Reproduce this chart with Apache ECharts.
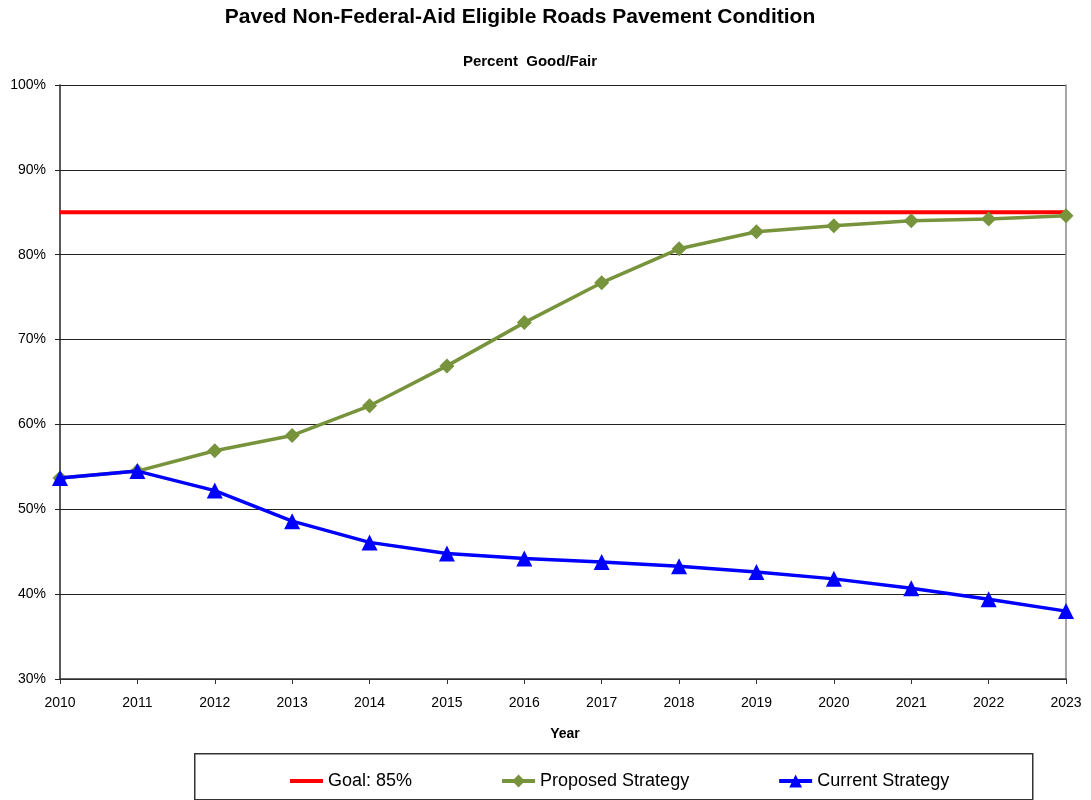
<!DOCTYPE html>
<html>
<head>
<meta charset="utf-8">
<script src="https://cdn.jsdelivr.net/npm/echarts@6/dist/echarts.min.js"></script>
<style>
	body { margin: 0; background: #fff; }
	#chart { width: 1091px; height: 800px; }
</style>
</head>
<body>
<div id="chart"></div>
<script>
// years on the x axis
let years = ['2010', '2011', '2012', '2013', '2014', '2015', '2016', '2017', '2018', '2019', '2020', '2021', '2022', '2023'];
// percent good/fair
let goal = [85, 85, 85, 85, 85, 85, 85, 85, 85, 85, 85, 85, 85, 85];
let proposed = [53.7, 54.5, 56.9, 58.7, 62.2, 66.9, 72.0, 76.7, 80.7, 82.7, 83.4, 84.0, 84.2, 84.6];
let current = [53.7, 54.5, 52.2, 48.6, 46.1, 44.8, 44.2, 43.8, 43.3, 42.6, 41.8, 40.7, 39.4, 38.0];

let font = 'Liberation Sans, Arial, sans-serif';
let myChart = echarts.init(document.getElementById('chart'));

let option = {
	backgroundColor: '#fff',
	animation: false,
	textStyle: { fontFamily: font },
	graphic: [
		{
			type: 'text', x: 520, y: 17,
			style: { text: 'Paved Non-Federal-Aid Eligible Roads Pavement Condition', font: 'bold 21px ' + font, fill: '#000', align: 'center', verticalAlign: 'middle' }
		},
		{
			type: 'text', x: 530, y: 62,
			style: { text: 'Percent  Good/Fair', font: 'bold 15px ' + font, fill: '#000', align: 'center', verticalAlign: 'middle' }
		},
		{
			type: 'text', x: 565, y: 734,
			style: { text: 'Year', font: 'bold 14px ' + font, fill: '#000', align: 'center', verticalAlign: 'middle' }
		},
		{
			type: 'rect', left: 194, top: 753,
			shape: { width: 838, height: 46 },
			style: { fill: '#fff', stroke: '#333', lineWidth: 1.5 }
		}
	],
	legend: {
		left: 285,
		top: 767,
		itemGap: 88,
		itemWidth: 33,
		itemHeight: 16,
		lineStyle: { width: 4 },
		textStyle: { fontSize: 18, color: '#000', fontFamily: font },
		data: [
			{ name: 'Goal: 85%', icon: 'path://M0,0L33,0L33,4L0,4Z' },
			'Proposed Strategy',
			'Current Strategy'
		]
	},
	grid: {
		left: 60,
		right: 25,
		top: 85,
		bottom: 121
	},
	xAxis: {
		type: 'category',
		boundaryGap: false,
		data: years,
		axisLine: { lineStyle: { color: '#333', width: 1.5 } },
		axisTick: { show: true, length: 5, lineStyle: { color: '#333' } },
		axisLabel: { color: '#000', fontSize: 14, margin: 17 }
	},
	yAxis: [
		{
			type: 'value',
			min: 30,
			max: 100,
			interval: 10,
			axisLine: { show: true, lineStyle: { color: '#222', width: 1.5 } },
			axisTick: { show: true, length: 5, lineStyle: { color: '#222' } },
			axisLabel: { color: '#000', fontSize: 14, formatter: '{value}%', margin: 14 },
			splitLine: { lineStyle: { color: '#222', width: 1 } }
		},
		{
			type: 'value',
			position: 'right',
			min: 30,
			max: 100,
			interval: 10,
			axisLine: { show: true, lineStyle: { color: '#888', width: 1.5 } },
			axisTick: { show: false },
			axisLabel: { show: false },
			splitLine: { show: false }
		}
	],
	series: [
		{
			name: 'Goal: 85%',
			type: 'line',
			data: goal,
			symbol: 'none',
			itemStyle: { color: '#ff0000' },
			lineStyle: { color: '#ff0000', width: 4 },
			z: 2
		},
		{
			name: 'Proposed Strategy',
			type: 'line',
			data: proposed,
			symbol: 'diamond',
			symbolSize: 15,
			itemStyle: { color: '#77933c' },
			lineStyle: { color: '#77933c', width: 3.5 },
			z: 3
		},
		{
			name: 'Current Strategy',
			type: 'line',
			data: current,
			symbol: 'triangle',
			symbolSize: 16,
			itemStyle: { color: '#0000ff' },
			lineStyle: { color: '#0000ff', width: 3.5 },
			z: 4
		}
	]
};
myChart.setOption(option);
</script>
</body>
</html>
